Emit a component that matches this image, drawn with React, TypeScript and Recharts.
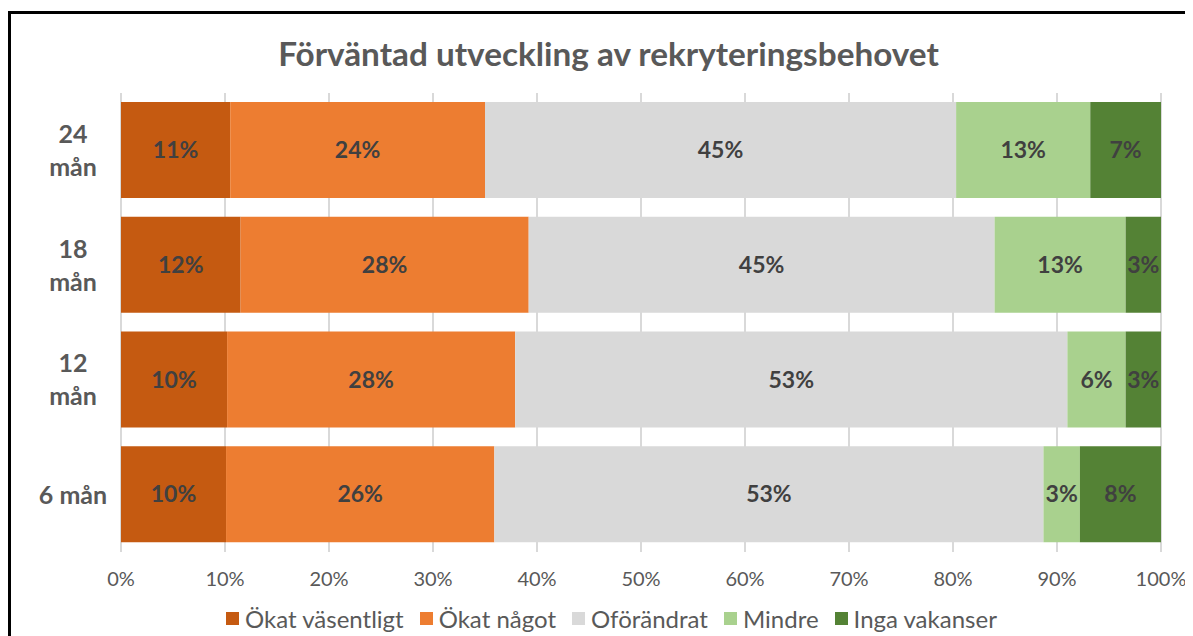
import React from "react";
import { BarChart, Bar, XAxis, YAxis, CartesianGrid, Legend, LabelList } from "recharts";

const categories = ["24 mån", "18 mån", "12 mån", "6 mån"];
const yLabelLines = [["24", "mån"], ["18", "mån"], ["12", "mån"], ["6 mån"]];

const okatVasentligt = [10.5, 11.5, 10.2, 10.1];
const okatNagot = [24.5, 27.7, 27.7, 25.8];
const oforandrat = [45.3, 44.8, 53.1, 52.8];
const mindre = [12.9, 12.6, 5.6, 3.5];
const ingaVakanser = [6.8, 3.4, 3.4, 7.8];

const lblVasentligt = ["11%", "12%", "10%", "10%"];
const lblNagot = ["24%", "28%", "28%", "26%"];
const lblOforandrat = ["45%", "45%", "53%", "53%"];
const lblMindre = ["13%", "13%", "6%", "3%"];
const lblInga = ["7%", "3%", "3%", "8%"];

const xTicks = [0, 10, 20, 30, 40, 50, 60, 70, 80, 90, 100];

const series = [
  { key: "v", lbl: "lv", name: "Ökat väsentligt", color: "#C55A11" },
  { key: "n", lbl: "ln", name: "Ökat något", color: "#ED7D31" },
  { key: "o", lbl: "lo", name: "Oförändrat", color: "#D9D9D9" },
  { key: "m", lbl: "lm", name: "Mindre", color: "#A9D18E" },
  { key: "i", lbl: "li", name: "Inga vakanser", color: "#548235" },
];

const data = categories.map((cat, idx) => ({
  cat,
  v: okatVasentligt[idx],
  n: okatNagot[idx],
  o: oforandrat[idx],
  m: mindre[idx],
  i: ingaVakanser[idx],
  lv: lblVasentligt[idx],
  ln: lblNagot[idx],
  lo: lblOforandrat[idx],
  lm: lblMindre[idx],
  li: lblInga[idx],
}));

const FONT = "Lato, 'Open Sans', sans-serif";

const YTick = (props: any) => {
  const { x, y, payload } = props;
  const idx = categories.indexOf(payload.value);
  const lines = idx >= 0 ? yLabelLines[idx] : [payload.value];
  const cx = x - 40;
  const step = 33;
  const start = -((lines.length - 1) * step) / 2;
  return (
    <text x={cx} y={y} textAnchor="middle" fill="#595959" fontSize={25} fontWeight="bold" fontFamily={FONT}>
      {lines.map((l: string, k: number) => (
        <tspan key={k} x={cx} y={y + start + k * step} dy="0.36em">
          {l}
        </tspan>
      ))}
    </text>
  );
};

const renderLegend = () => (
  <div
    style={{
      display: "flex",
      justifyContent: "center",
      alignItems: "center",
      paddingLeft: 38,
      fontFamily: FONT,
      fontSize: 24,
      color: "#595959",
      height: 28,
      whiteSpace: "nowrap",
    }}
  >
    {series.map((s) => (
      <div key={s.key} style={{ display: "flex", alignItems: "center", marginRight: 16 }}>
        <span style={{ display: "inline-block", width: 13, height: 13, background: s.color, marginRight: 6 }} />
        <span>{s.name}</span>
      </div>
    ))}
  </div>
);

export default function App() {
  return (
    <div style={{ position: "relative", width: 1185, height: 628, fontFamily: FONT, background: "#fff" }}>
      <div
        style={{
          position: "absolute",
          left: 0,
          top: 3,
          width: 1185,
          height: 625,
          borderTop: "3px solid #000",
          borderLeft: "3px solid #000",
          boxSizing: "border-box",
          pointerEvents: "none",
          zIndex: 2,
        }}
      />
      <svg style={{ position: "absolute", left: 0, top: 0 }} width={1185} height={80}>
        <text
          x={600.5}
          y={58}
          textAnchor="middle"
          fontFamily={FONT}
          fontWeight="bold"
          fontSize={33.3}
          fill="#595959"
        >
          Förväntad utveckling av rekryteringsbehovet
        </text>
      </svg>
      <BarChart
        width={1185}
        height={628}
        data={data}
        layout="vertical"
        margin={{ top: 85, right: 32, left: 13, bottom: 0 }}
        barSize={96}
      >
        <CartesianGrid horizontal={false} stroke="#D9D9D9" strokeWidth={2} />
        <XAxis
          type="number"
          domain={[0, 100]}
          ticks={xTicks}
          tickFormatter={(v: number) => `${v}%`}
          axisLine={false}
          tickLine={false}
          tickMargin={14}
          height={30}
          tick={{ fill: "#595959", fontSize: 20, fontFamily: FONT }}
          interval={0}
        />
        <YAxis type="category" dataKey="cat" width={100} axisLine={false} tickLine={false} tick={<YTick />} />
        <Legend verticalAlign="bottom" height={54} wrapperStyle={{ top: 596, left: 0, width: 1185 }} content={renderLegend} />
        {series.map((s) => (
          <Bar key={s.key} dataKey={s.key} name={s.name} stackId="a" fill={s.color} isAnimationActive={false}>
            <LabelList
              dataKey={s.lbl}
              position="center"
              fill="#404040"
              fontSize={23}
              fontWeight="bold"
              fontFamily={FONT}
            />
          </Bar>
        ))}
      </BarChart>
    </div>
  );
}
